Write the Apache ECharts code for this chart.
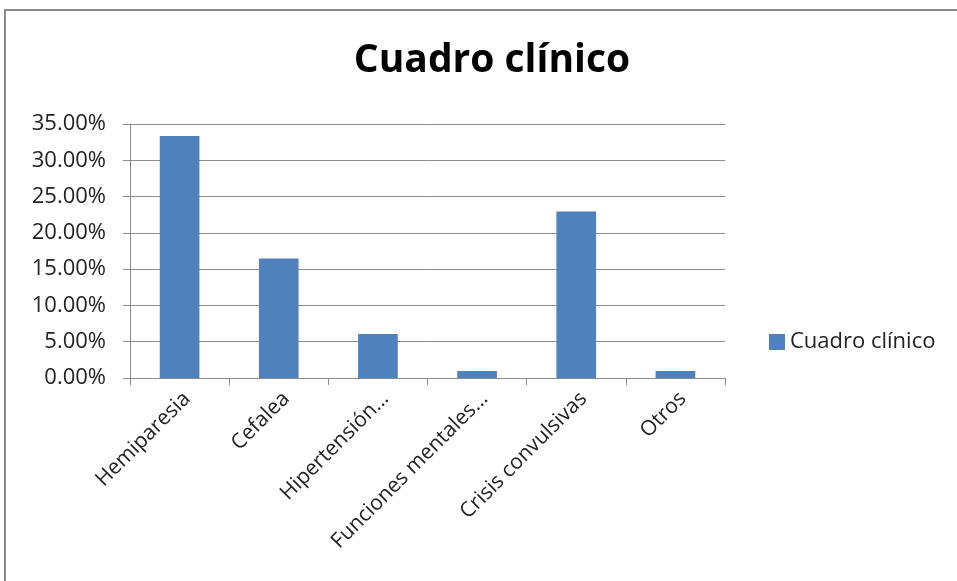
<!DOCTYPE html>
<html>
<head>
<meta charset="utf-8">
<script src="https://cdn.jsdelivr.net/npm/echarts@6/dist/echarts.min.js"></script>
<style>
  html, body { margin: 0; padding: 0; background: #ffffff; }
  #chart { width: 957px; height: 581px; }
</style>
</head>
<body>
<div id="chart"></div>
<script>
// Clinical presentation categories and their share of cases (%)
const categories = ['Hemiparesia', 'Cefalea', 'Hipertensión…', 'Funciones mentales…', 'Crisis convulsivas', 'Otros'];
const values = [33.33, 16.45, 6.06, 0.96, 22.95, 0.96];
const seriesName = 'Cuadro clínico';
const titleText = 'Cuadro clínico';
const yTicks = { min: 0, max: 35, interval: 5 };

const font = '"Open Sans", Lato, sans-serif';
const chart = echarts.init(document.getElementById('chart'), null, { renderer: 'canvas' });

chart.setOption({
  animation: false,
  backgroundColor: '#ffffff',
  graphic: [{
    type: 'rect',
    shape: { x: 5, y: 10, width: 1000, height: 700 },
    style: { fill: 'none', stroke: '#8c8c8c', lineWidth: 2 },
    silent: true
  }],
  title: {
    text: titleText,
    left: 487,
    textAlign: 'center',
    top: 36,
    textStyle: { fontFamily: font, fontWeight: 'bold', fontSize: 39, color: '#000000' }
  },
  legend: {
    left: 764,
    top: 326,
    itemWidth: 16,
    itemHeight: 16,
    icon: 'rect',
    textStyle: { fontFamily: font, fontSize: 22, color: '#222222' },
    data: [seriesName]
  },
  grid: { left: 130, right: 232, top: 124, bottom: 203, containLabel: false },
  xAxis: {
    type: 'category',
    data: categories,
    axisLine: { show: true, lineStyle: { color: '#8c8c8c', width: 1 } },
    axisTick: { show: true, alignWithLabel: false, length: 7, lineStyle: { color: '#8c8c8c' } },
    axisLabel: {
      interval: 0,
      rotate: 45,
      margin: 10,
      verticalAlign: 'top',
      fontFamily: font,
      fontSize: 21,
      color: '#222222'
    }
  },
  yAxis: {
    type: 'value',
    min: yTicks.min,
    max: yTicks.max,
    interval: yTicks.interval,
    axisLine: { show: true, lineStyle: { color: '#8c8c8c', width: 1 } },
    axisTick: { show: true, length: 7, lineStyle: { color: '#8c8c8c' } },
    splitLine: { show: true, lineStyle: { color: '#8c8c8c', width: 1 } },
    axisLabel: {
      margin: 24,
      fontFamily: font,
      fontSize: 22,
      color: '#222222',
      formatter: v => v.toFixed(2) + '%'
    }
  },
  series: [{
    name: seriesName,
    type: 'bar',
    data: values,
    barWidth: '40%',
    itemStyle: { color: '#4f81bd' }
  }]
});
</script>
</body>
</html>
